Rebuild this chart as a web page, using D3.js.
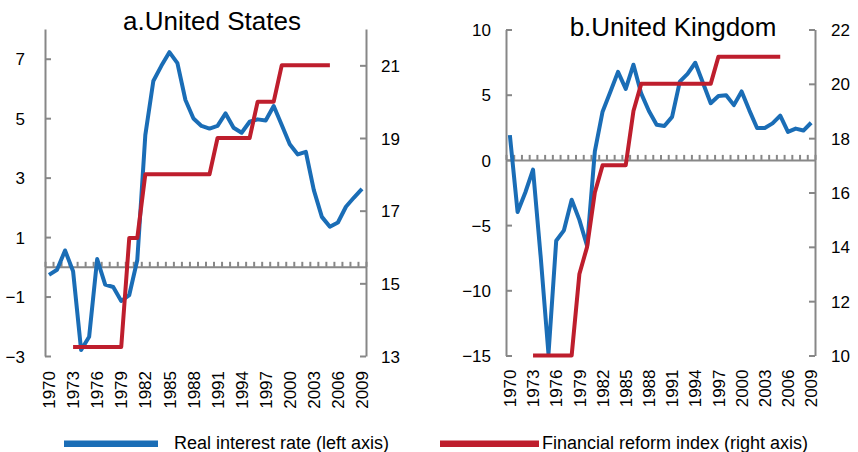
<!DOCTYPE html>
<html>
<head>
<meta charset="utf-8">
<script src="https://cdn.jsdelivr.net/npm/d3@7/dist/d3.min.js"></script>
<style>
  html, body { margin: 0; padding: 0; background: #fff; }
  svg { display: block; font-family: "Liberation Sans", Arial, sans-serif; }
  .axis path, .axis line { stroke: #878787; stroke-width: 2; }
  .axis text { fill: #000; font-size: 17px; font-family: "Liberation Sans", Arial, sans-serif; }
</style>
</head>
<body>
<svg id="chart" width="858" height="452"></svg>
<script>
// Years on the category axis
const years = [1970, 1971, 1972, 1973, 1974, 1975, 1976, 1977, 1978, 1979,
               1980, 1981, 1982, 1983, 1984, 1985, 1986, 1987, 1988, 1989,
               1990, 1991, 1992, 1993, 1994, 1995, 1996, 1997, 1998, 1999,
               2000, 2001, 2002, 2003, 2004, 2005, 2006, 2007, 2008, 2009];
const labelYears = [1970, 1973, 1976, 1979, 1982, 1985, 1988, 1991, 1994, 1997, 2000, 2003, 2006, 2009];

// United States: real interest rate (%) and financial reform index
const usRate = [-0.27, -0.1, 0.55, -0.15, -2.8, -2.35, 0.26, -0.6, -0.68, -1.15,
                -0.95, 0.23, 4.43, 6.25, 6.76, 7.22, 6.85, 5.61, 4.99, 4.74,
                4.65, 4.74, 5.16, 4.68, 4.51, 4.88, 4.96, 4.92, 5.41, 4.77,
                4.12, 3.78, 3.87, 2.58, 1.68, 1.35, 1.49, 2.02, 2.33, 2.62];
const usReform = [null, null, null, 13.25, 13.25, 13.25, 13.25, 13.25, 13.25, 13.25,
                  16.25, 16.25, 18, 18, 18, 18, 18, 18, 18, 18,
                  18, 19, 19, 19, 19, 19, 20, 20, 20, 21,
                  21, 21, 21, 21, 21, 21, null, null, null, null];

// United Kingdom: real interest rate (%) and financial reform index
const ukRate = [1.9, -4.0, -2.5, -0.75, -7.5, -14.9, -6.2, -5.4, -3.05, -4.6,
                -6.6, 0.65, 3.7, 5.2, 6.75, 5.45, 7.3, 5.1, 3.75, 2.7,
                2.6, 3.3, 6.0, 6.6, 7.45, 5.9, 4.35, 4.9, 4.95, 4.2,
                5.25, 3.8, 2.45, 2.45, 2.8, 3.4, 2.15, 2.4, 2.25, 2.85];
const ukReform = [null, null, null, 10, 10, 10, 10, 10, 10, 13,
                  14, 16, 17, 17, 17, 17, 19, 20, 20, 20,
                  20, 20, 20, 20, 20, 20, 20, 21, 21, 21,
                  21, 21, 21, 21, 21, 21, null, null, null, null];

// Axis domains and tick values
const usLeftDomain = [-3, 8], usLeftTicks = [-3, -1, 1, 3, 5, 7];
const usRightDomain = [13, 22], usRightTicks = [13, 15, 17, 19, 21];
const ukLeftDomain = [-15, 10], ukLeftTicks = [-15, -10, -5, 0, 5, 10];
const ukRightDomain = [10, 22], ukRightTicks = [10, 12, 14, 16, 18, 20, 22];

const BLUE = "#1a6db6";
const RED = "#be1e2d";

const svg = d3.select("#chart");

function drawPanel(p) {
  const g = svg.append("g");
  const x = d3.scaleBand().domain(years).range([p.x0, p.x1]).padding(0);
  const bw = x.bandwidth();
  const cx = yr => x(yr) + bw / 2;
  const yL = d3.scaleLinear().domain(p.leftDomain).range([p.y1, p.y0]);
  const yR = d3.scaleLinear().domain(p.rightDomain).range([p.y1, p.y0]);

  // Left value axis (ticks pointing inward)
  g.append("g").attr("class", "axis")
    .attr("transform", `translate(${p.x0},0)`)
    .call(d3.axisLeft(yL).tickValues(p.leftTicks).tickSize(-6).tickSizeOuter(0).tickPadding(p.leftPad))
    .call(a => a.selectAll("text").attr("dy", "0.36em"));

  // Right value axis (ticks pointing inward)
  g.append("g").attr("class", "axis")
    .attr("transform", `translate(${p.x1},0)`)
    .call(d3.axisRight(yR).tickValues(p.rightTicks).tickSize(-6).tickSizeOuter(0).tickPadding(p.rightPad))
    .call(a => a.selectAll("text").attr("dy", "0.36em"));

  // Category axis drawn at zero, with tick marks between years
  const xb = d3.scaleLinear().domain([0, years.length]).range([p.x0, p.x1]);
  g.append("g").attr("class", "axis")
    .attr("transform", `translate(0,${yL(0)})`)
    .call(d3.axisTop(xb).tickValues(d3.range(years.length + 1)).tickSize(5).tickSizeOuter(0).tickFormat(""));

  // Year labels along the bottom, rotated
  g.append("g").attr("class", "axis")
    .attr("transform", `translate(0,${p.y1})`)
    .call(d3.axisBottom(x).tickValues(labelYears).tickSize(0).tickPadding(0))
    .call(a => a.select(".domain").remove())
    .call(a => a.selectAll("text")
      .attr("transform", "rotate(-90)")
      .attr("text-anchor", "end")
      .attr("x", -p.labelOffset)
      .attr("y", 0)
      .attr("dy", "0.36em"));

  const rateLine = d3.line()
    .defined(d => d.v != null)
    .x(d => cx(d.year))
    .y(d => yL(d.v));
  const reformLine = d3.line()
    .defined(d => d.v != null)
    .x(d => cx(d.year))
    .y(d => yR(d.v));

  g.append("path")
    .datum(years.map((yr, i) => ({ year: yr, v: p.rate[i] })))
    .attr("d", rateLine)
    .attr("fill", "none").attr("stroke", BLUE).attr("stroke-width", 4)
    .attr("stroke-linejoin", "round");

  g.append("path")
    .datum(years.map((yr, i) => ({ year: yr, v: p.reform[i] })))
    .attr("d", reformLine)
    .attr("fill", "none").attr("stroke", RED).attr("stroke-width", 4)
    .attr("stroke-linejoin", "round");

  g.append("text")
    .attr("x", p.titleX).attr("y", p.titleY)
    .attr("text-anchor", "middle")
    .attr("font-size", 26)
    .attr("fill", "#000")
    .text(p.title);
}

drawPanel({
  x0: 45, x1: 366, y0: 29, y1: 356,
  leftDomain: usLeftDomain, leftTicks: usLeftTicks,
  rightDomain: usRightDomain, rightTicks: usRightTicks,
  rate: usRate, reform: usReform,
  leftPad: 20, rightPad: 15, labelOffset: 15,
  title: "a.United States", titleX: 212, titleY: 30
});

drawPanel({
  x0: 506, x1: 815, y0: 29.5, y1: 355.5,
  leftDomain: ukLeftDomain, leftTicks: ukLeftTicks,
  rightDomain: ukRightDomain, rightTicks: ukRightTicks,
  rate: ukRate, reform: ukReform,
  leftPad: 15, rightPad: 16, labelOffset: 14,
  title: "b.United Kingdom", titleX: 673, titleY: 35.5
});

// Legend
const legend = [
  { label: "Real interest rate (left axis)", color: BLUE, x: 64, w: 94, tx: 174 },
  { label: "Financial reform index (right axis)", color: RED, x: 440, w: 99, tx: 542 }
];
const lg = svg.append("g");
legend.forEach(d => {
  lg.append("rect").attr("x", d.x).attr("y", 440.5).attr("width", d.w).attr("height", 6.5).attr("fill", d.color);
  lg.append("text").attr("x", d.tx).attr("y", 449).attr("font-size", 18).attr("fill", "#000").text(d.label);
});
</script>
</body>
</html>
